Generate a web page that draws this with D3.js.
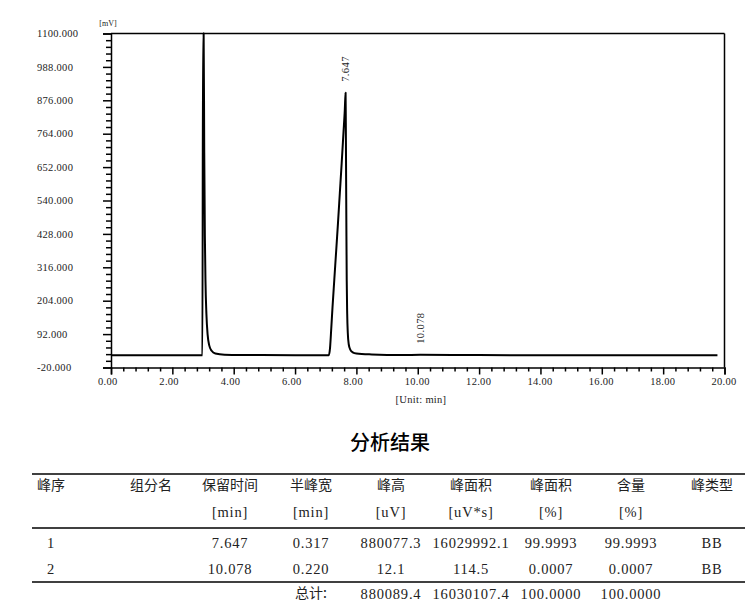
<!DOCTYPE html>
<html>
<head>
<meta charset="utf-8">
<script src="https://cdn.jsdelivr.net/npm/d3@7"></script>
<style>
  html, body { margin: 0; padding: 0; background: #fff; }
  svg { display: block; }
</style>
</head>
<body>
<svg id="chart" width="745" height="601"></svg>
<script>
// ---------- data ----------
const times  = [0, 2.98, 3.00, 3.02, 3.04, 3.06, 3.08, 3.11, 3.15, 3.20, 3.28, 3.40, 3.70, 4.5, 6.0, 7.10,
                7.14, 7.18, 7.22, 7.28, 7.34, 7.40, 7.46, 7.52, 7.58, 7.62, 7.647,
                7.655, 7.665, 7.675, 7.685, 7.70, 7.72, 7.75, 7.80, 7.88, 8.0, 8.5, 9.5, 10.078, 12.0, 15.0, 19.77];
const signal = [21, 21, 1100, 1100, 700, 420, 270, 160, 90, 55, 36, 27, 23, 22, 21, 21,
                45, 110, 180, 275, 370, 465, 565, 665, 770, 840, 901,
                800, 610, 420, 270, 160, 95, 58, 40, 31, 27, 24, 22, 22.5, 21.5, 21, 21];
const yTickValues = [-20, 92, 204, 316, 428, 540, 652, 764, 876, 988, 1100];
const yTickLabels = ["-20.000", "92.000", "204.000", "316.000", "428.000", "540.000", "652.000", "764.000", "876.000", "988.000", "1100.000"];
const xTickValues = [0, 2, 4, 6, 8, 10, 12, 14, 16, 18, 20];
const xTickLabels = ["0.00", "2.00", "4.00", "6.00", "8.00", "10.00", "12.00", "14.00", "16.00", "18.00", "20.00"];
const peakTimes  = [7.647, 10.078];
const peakValues = [901, 22.5];
const peakLabels = ["7.647", "10.078"];

const tableTitle = "分析结果";
const headers = ["峰序", "组分名", "保留时间", "半峰宽", "峰高", "峰面积", "峰面积", "含量", "峰类型"];
const units   = ["", "", "[min]", "[min]", "[uV]", "[uV*s]", "[%]", "[%]", ""];
const rows = [
  ["1", "", "7.647", "0.317", "880077.3", "16029992.1", "99.9993", "99.9993", "BB"],
  ["2", "", "10.078", "0.220", "12.1", "114.5", "0.0007", "0.0007", "BB"]
];
const totalRow = ["", "", "", "总计:", "880089.4", "16030107.4", "100.0000", "100.0000", ""];

// ---------- layout ----------
const svg = d3.select("#chart");
const x = d3.scaleLinear().domain([0, 20]).range([111, 724.5]);
const y = d3.scaleLinear().domain([-20, 1100]).range([367.5, 33.5]);
const serifFont = "'Liberation Serif', 'DejaVu Serif', serif";
const cjkFont = "'Noto Sans CJK SC', sans-serif";
const txtColor = "#222";

// frame (top & right)
svg.append("line").attr("x1", x(0)).attr("x2", x(20)).attr("y1", y(1100)).attr("y2", y(1100))
  .attr("stroke", "#000").attr("stroke-width", 1.5);
svg.append("line").attr("x1", x(20)).attr("x2", x(20)).attr("y1", y(1100)).attr("y2", y(-20))
  .attr("stroke", "#000").attr("stroke-width", 1.5);

// y axis
const yMinor = d3.range(-20, 1100.001, 22.4).filter(v => !yTickValues.some(t => Math.abs(t - v) < 1e-6));
const yAxisG = svg.append("g").attr("transform", `translate(${x(0)},0)`);
yAxisG.call(d3.axisLeft(y).tickValues(yTickValues).tickSize(8).tickFormat(""));
yAxisG.append("g").call(d3.axisLeft(y).tickValues(yMinor).tickSize(5).tickFormat(""))
  .select(".domain").remove();
yAxisG.selectAll("line, path").attr("stroke", "#000").attr("stroke-width", 1.5);

svg.append("g").selectAll("text").data(yTickValues).join("text")
  .attr("x", 37).attr("y", d => y(d)).attr("dy", "0.35em")
  .attr("font-family", serifFont).attr("font-size", 10.5).attr("letter-spacing", 0.3).attr("fill", txtColor)
  .text((d, i) => yTickLabels[i]);

// x axis
const xMinor = d3.range(0, 20.001, 0.4).filter(v => !xTickValues.some(t => Math.abs(t - v) < 1e-6));
const xAxisG = svg.append("g").attr("transform", `translate(0,${y(-20)})`);
xAxisG.call(d3.axisBottom(x).tickValues(xTickValues).tickSize(7).tickFormat(""));
xAxisG.append("g").call(d3.axisBottom(x).tickValues(xMinor).tickSize(4).tickFormat(""))
  .select(".domain").remove();
xAxisG.selectAll("line, path").attr("stroke", "#000").attr("stroke-width", 1.5);

svg.append("g").selectAll("text").data(xTickValues).join("text")
  .attr("x", d => x(d) - 13).attr("y", 384.5)
  .attr("font-family", serifFont).attr("font-size", 10.5).attr("letter-spacing", 0.3).attr("fill", txtColor)
  .text((d, i) => xTickLabels[i]);

// axis unit labels
svg.append("text").attr("x", 108).attr("y", 26).attr("text-anchor", "middle")
  .attr("font-family", serifFont).attr("font-size", 8).attr("fill", txtColor).text("[mV]");
svg.append("text").attr("x", 421).attr("y", 402.5).attr("text-anchor", "middle")
  .attr("font-family", serifFont).attr("font-size", 10.5).attr("letter-spacing", 0.3).attr("fill", txtColor).text("[Unit: min]");

// chromatogram line
const pts = times.map((t, i) => [t, signal[i]]);
svg.append("path").datum(pts)
  .attr("fill", "none").attr("stroke", "#000").attr("stroke-width", 2).attr("stroke-linejoin", "round")
  .attr("d", d3.line().x(d => x(d[0])).y(d => y(d[1])).curve(d3.curveMonotoneX));

// peak labels
svg.append("g").selectAll("text").data(peakTimes).join("text")
  .attr("transform", (d, i) => `translate(${x(d) + 3.5},${y(peakValues[i]) - 11}) rotate(-90)`)
  .attr("font-family", serifFont).attr("font-size", 10.5).attr("letter-spacing", 0.4).attr("fill", txtColor)
  .text((d, i) => peakLabels[i]);

// ---------- table ----------
svg.append("text").attr("x", 390).attr("y", 450).attr("text-anchor", "middle")
  .attr("font-family", cjkFont).attr("font-size", 20).attr("font-weight", 500).attr("fill", "#000")
  .text(tableTitle);

const colX = [51, 151, 230, 311, 391, 471, 551, 631, 712];
const hLines = [474, 528, 582];
svg.append("g").selectAll("line").data(hLines).join("line")
  .attr("x1", 32).attr("x2", 745).attr("y1", d => d).attr("y2", d => d)
  .attr("stroke", "#000").attr("stroke-width", 1.5);

function rowText(vals, yy) {
  svg.append("g").selectAll("text").data(vals).join("text")
    .attr("x", (d, i) => colX[i]).attr("y", yy).attr("dy", "0.35em").attr("text-anchor", "middle")
    .attr("font-family", d => /[\u4e00-\u9fff]/.test(d) ? cjkFont : serifFont)
    .attr("font-size", d => /[\u4e00-\u9fff]/.test(d) ? 14 : 14.5)
    .attr("letter-spacing", d => /[\u4e00-\u9fff]/.test(d) ? 0 : 0.8)
    .attr("fill", txtColor)
    .text(d => d);
}
rowText(headers, 485);
rowText(units, 512);
rowText(rows[0], 543);
rowText(rows[1], 568.5);
rowText(totalRow, 593.5);
</script>
</body>
</html>
